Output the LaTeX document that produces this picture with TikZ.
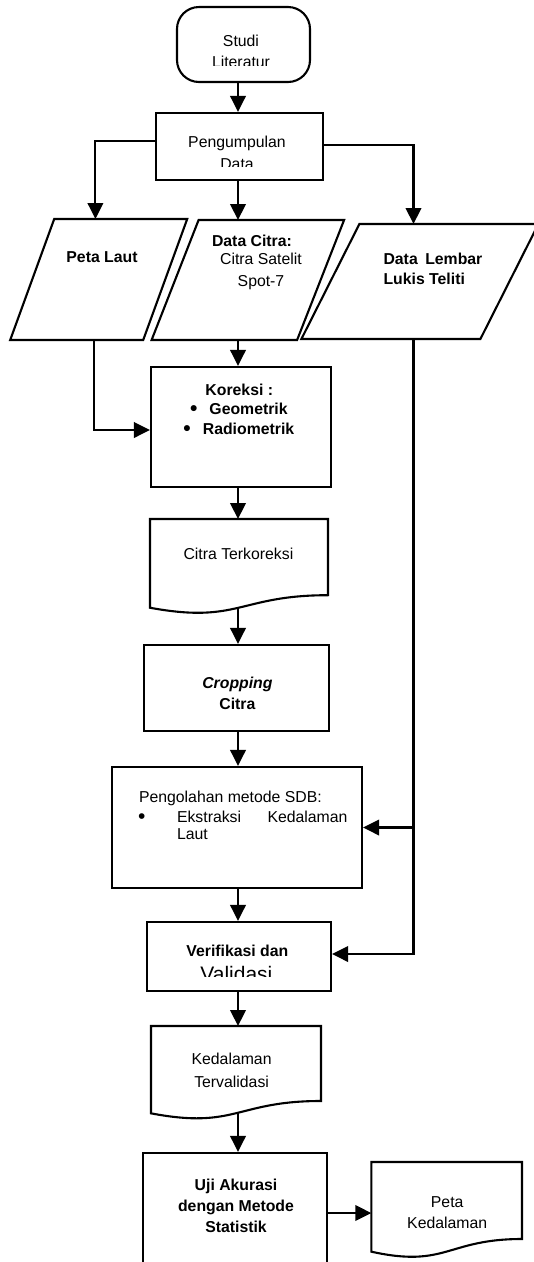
\documentclass[tikz,border=0pt]{standalone}
\usepackage{fontspec}
\setmainfont{Liberation Sans}
\usetikzlibrary{arrows.meta}
\newcommand{\bulletmark}{\makebox[5.5pt]{\fontsize{21}{0}\selectfont\raisebox{-1.3pt}{\textbullet}}}
\tikzset{
    flow/.style={-{Triangle[length=16pt,width=15.5pt]}},
    box/.style={draw, rectangle, inner sep=0pt},
    txt/.style={inner sep=0pt, align=center, font=\fontsize{15.8}{#1}\selectfont},
    txt/.default=21,
    btxt/.style={inner sep=0pt, align=center, font=\fontsize{15.8}{#1}\selectfont\bfseries},
    btxt/.default=21
}

\begin{document}
\begin{tikzpicture}[x=1pt, y=-1pt, line width=2.1pt]
\clip (0,0) rectangle (534,1262);
\coordinate (spine) at (238,0);

\node[box, rounded corners=22pt, minimum width=133pt, minimum height=75pt] (studi) at (243.5,44.5) {};
\node[box, minimum width=167pt, minimum height=67pt] (kumpul) at (239.5,146.5) {};
\node[box, minimum width=180.4pt, minimum height=120pt] (koreksi) at (241.2,427) {};
\node[box, minimum width=184.7pt, minimum height=86pt] (cropping) at (236.35,688) {};
\node[box, minimum width=250pt, minimum height=121pt] (olah) at (237,827.5) {};
\node[box, minimum width=184pt, minimum height=69pt] (verif) at (239,956.5) {};
\node[box, minimum width=184pt, minimum height=120pt] (uji) at (235,1213) {};

\foreach \p/\bl/\w/\s/\yt/\yb in {laut/10.2/133/44/219/340, citra/151.6/145.5/47/220/340, lembar/301.4/179/58/224/339}{
\draw (\bl,\yb) -- (\bl+\w,\yb) -- (\bl+\w+\s,\yt) -- (\bl+\s,\yt) -- cycle;
}
\coordinate (lautIn) at (95.4,219);
\coordinate (lautOut) at (93.7,340);
\coordinate (citraIn) at (238,220);
\coordinate (citraOut) at (238,340);
\coordinate (lembarIn) at (413.5,224);
\coordinate (lembarOut) at (413.5,339);

\foreach \p/\xl/\xr/\yt/\h in {terkoreksi/150/328/519/95, terval/151/321/1026/93.5, petaDalam/371.3/522/1162/96}{
\coordinate (\p) at ({(\xl+\xr)/2},\yt);
\draw (\xl,\yt) -- (\xr,\yt) -- (\xr,\yt+0.802*\h) .. controls ({(\xl+\xr)/2},\yt+0.802*\h) and ({(\xl+\xr)/2},\yt+1.107*\h) .. (\xl,\yt+0.934*\h) -- cycle;
}
\coordinate (terkoreksiOut) at (238,607.5);
\coordinate (tervalOut) at (238,1113);
\coordinate (petaDalamIn) at (371.3,1213);

\begin{scope}
\clip (150,0) rectangle (330,65);
\node[txt=21.5] (studiText) at (241,51.5) {Studi\\Literatur};
\end{scope}
\begin{scope}
\clip (150,100) rectangle (330,166.5);
\node[txt=22.3] (kumpulText) at (237,153) {Pengumpulan\\Data};
\end{scope}
\node[btxt] (lautText) at (102,257) {Peta Laut};
\node[btxt] (citraHead) at (252,241) {Data Citra:};
\node[txt=22] (citraText) at (261,271.7) {Citra Satelit\\Spot-7};
\node[btxt=20, anchor=west, align=left] (lembarText) at (382.5,269) {Data\hspace{7.5pt}Lembar\\Lukis Teliti};
\node[btxt=19.5] (koreksiText) at (239.3,409.5) {Koreksi :\\\bulletmark\hspace{13pt}Geometrik\\\bulletmark\hspace{13pt}Radiometrik};
\node[txt] (terkoreksiText) at (238.4,554) {Citra Terkoreksi};
\node[btxt] (croppingText) at (237.4,693.5) {\textit{Cropping}\\Citra};
\node[txt=20, anchor=west, align=left] (olahText) at (138,815.5) {Pengolahan metode SDB:\\\makebox[38pt][l]{\bulletmark}\makebox[170.4pt][s]{Ekstraksi\hfill Kedalaman}\\[-3pt]\hspace*{38pt}Laut};
\node[btxt, anchor=base] (verifText) at (237.4,956.7) {Verifikasi dan};
\begin{scope}
\clip (140,960) rectangle (335,976);
\node[inner sep=0pt, anchor=base, font=\fontsize{21}{25}\selectfont] (validText) at (236.4,981.7) {Validasi};
\end{scope}
\node[txt=23] (tervalText) at (231.6,1070.5) {Kedalaman\\Tervalidasi};
\node[btxt] (ujiText) at (236,1206) {Uji Akurasi\\dengan Metode\\Statistik};
\node[txt] (petaDalamText) at (447.2,1212.5) {Peta\\Kedalaman};

\foreach \a/\b in {studi.south/kumpul.north, kumpul.south/citraIn, citraOut/koreksi.north, koreksi.south/terkoreksi, terkoreksiOut/cropping.north, cropping.south/olah.north, olah.south/verif.north, verif.south/terval, tervalOut/uji.north}{
\draw[flow] (\a -| spine) -- (\b -| spine);
}
\draw[flow] ([yshift=5.5pt]kumpul.west) -| (lautIn);
\draw[flow] ([yshift=1.5pt]kumpul.east) -| (lembarIn);
\draw[flow] (lautOut) |- ([yshift=-3pt]koreksi.west);
\draw[flow] (lembarOut) |- ([yshift=2.5pt]verif.east);
\draw[flow] (lembarOut |- olah.east) -- (olah.east);
\draw[flow] (uji.east) -- (petaDalamIn);
\end{tikzpicture}
\end{document}
